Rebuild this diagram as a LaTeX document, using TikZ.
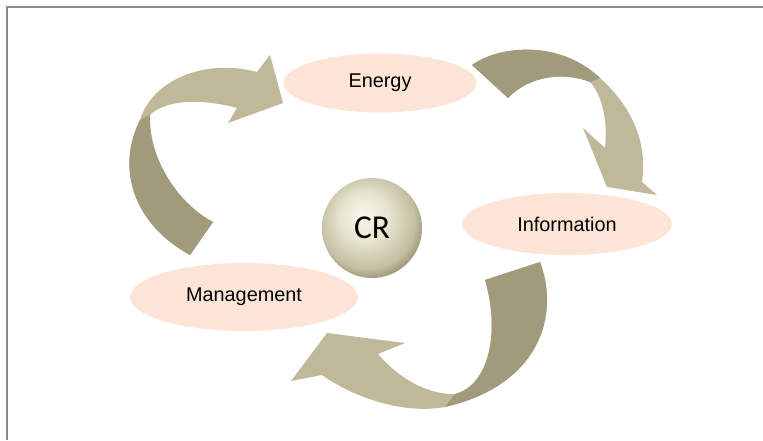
\documentclass[tikz,border=0pt]{standalone}
\usepackage{fontspec}
\setmainfont{Liberation Sans}
\newfontfamily\crfont{Carlito}
\usetikzlibrary{shapes.geometric}

\definecolor{peach}{RGB}{252,229,214}
\definecolor{ribbonlight}{RGB}{191,185,153}
\definecolor{ribbondark}{RGB}{161,155,123}
\definecolor{framegray}{RGB}{140,140,140}
\definecolor{crhi}{RGB}{248,247,236}
\definecolor{crmid}{RGB}{231,228,208}
\definecolor{crlow}{RGB}{196,191,162}
\definecolor{credge}{RGB}{136,131,104}

\pgfdeclareradialshading{crball}{\pgfpoint{-5bp}{7bp}}{color(0bp)=(crhi); color(12bp)=(crmid); color(24bp)=(crlow); color(31bp)=(credge); color(50bp)=(credge)}

\tikzset{
  topic/.style={ellipse, fill=peach, inner sep=0pt, font=\fontsize{11.3}{13}\selectfont},
  ribbon/.style={fill=ribbonlight},
  ribbonback/.style={fill=ribbondark},
}

\begin{document}
\begin{tikzpicture}[x=0.02cm, y=-0.02cm]
\useasboundingbox (0,0) rectangle (763,440);

% frame, top and left only
\draw[framegray, line width=1.2pt] (7,440) -- (7,7) -- (763,7);

% left ribbon: management -> energy
\fill[ribbon] (190,255) .. controls (135,225) and (115,170) .. (140,120)
  .. controls (152,80) and (205,58) .. (257,72)
  -- (270,55) -- (283,103) -- (228,123) -- (237,108)
  .. controls (200,98) and (165,100) .. (150,115)
  .. controls (148,160) and (180,205) .. (213,222) -- cycle;
\fill[ribbonback] (190,255) .. controls (135,225) and (115,170) .. (140,120)
  -- (150,115) .. controls (148,160) and (180,205) .. (213,222) -- cycle;

% top ribbon: energy -> information
\fill[ribbon] (472,65) .. controls (500,45) and (560,40) .. (600,78)
  .. controls (630,105) and (648,140) .. (642,182)
  -- (657,195) -- (607,187) -- (583,128) -- (605,148)
  .. controls (608,120) and (602,95) .. (590,82)
  .. controls (565,72) and (530,75) .. (508,98) -- cycle;
\fill[ribbonback] (472,65) .. controls (500,45) and (560,40) .. (600,78)
  -- (590,82) .. controls (565,72) and (530,75) .. (508,98) -- cycle;

% bottom ribbon: information -> management
\fill[ribbon] (540,262) .. controls (560,315) and (540,385) .. (445,407)
  .. controls (400,415) and (350,395) .. (322,375)
  -- (291,381) -- (327,333) -- (405,343) -- (378,354)
  .. controls (400,380) and (430,395) .. (455,394)
  .. controls (490,385) and (500,330) .. (485,280) -- cycle;
\fill[ribbonback] (540,262) .. controls (560,315) and (540,385) .. (445,407)
  -- (455,394) .. controls (490,385) and (500,330) .. (485,280) -- cycle;

% topics
\node[topic, minimum width=3.86cm, minimum height=1.18cm] (energy) at (380,83) {Energy};
\node[topic, minimum width=4.2cm, minimum height=1.24cm] (info) at (567,224) {Information};
\node[topic, minimum width=4.56cm, minimum height=1.36cm] (mgmt) at (244,297) {Management};

% centre ball
\node[circle, minimum size=2cm, inner sep=0pt, shade, shading=crball,
  font=\crfont\fontsize{19}{22}\selectfont] (cr) at (372,228) {CR};
\end{tikzpicture}
\end{document}
